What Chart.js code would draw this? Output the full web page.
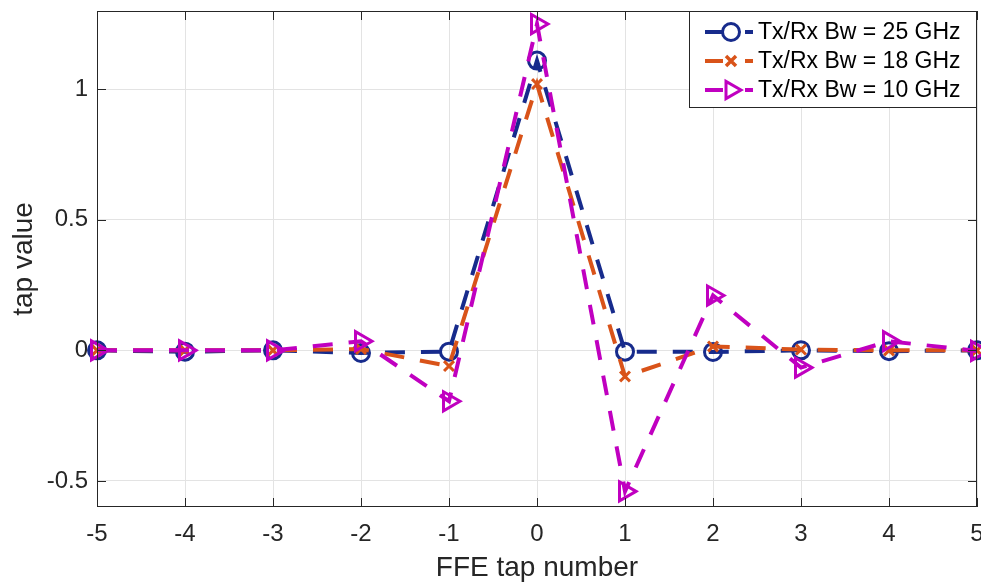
<!DOCTYPE html>
<html>
<head>
<meta charset="utf-8">
<script src="https://cdn.jsdelivr.net/npm/chart.js@4/dist/chart.umd.min.js"></script>
<style>
  html, body { margin: 0; padding: 0; background: #fff; overflow: hidden; }
  #wrap { width: 981px; height: 585px; position: relative; }
  canvas { display: block; }
</style>
</head>
<body>
<div id="wrap"><canvas id="ffeChart"></canvas></div>
<script>
// FFE tap values for three Tx/Rx bandwidths
const tapNumbers = [-5, -4, -3, -2, -1, 0, 1, 2, 3, 4, 5];
const bw25 = [0, -0.005, 0, -0.01, -0.005, 1.11, -0.005, -0.006, 0, -0.003, 0];
const bw18 = [0, 0, 0, 0.005, -0.06, 1.02, -0.10, 0.015, 0.003, 0, 0];
const bw10 = [0, 0, 0, 0.035, -0.195, 1.25, -0.54, 0.21, -0.066, 0.035, -0.002];

const xTicks = [-5, -4, -3, -2, -1, 0, 1, 2, 3, 4, 5];
const yTicks = [-0.5, 0, 0.5, 1];
const seriesLabels = ["Tx/Rx Bw = 25 GHz", "Tx/Rx Bw = 18 GHz", "Tx/Rx Bw = 10 GHz"];
const seriesColors = ["#172b8c", "#d95319", "#c000c0"];

const FONT = "'Liberation Sans', Arial, Helvetica, sans-serif";
const AXIS = "#262626";
const noPadding = () => ({ left: 0, top: 0, right: 0, bottom: 0 });

function toPoints(values) {
  return tapNumbers.map((x, i) => ({ x, y: values[i] }));
}

function series(values, idx, style, radius, rotation) {
  return {
    label: seriesLabels[idx],
    data: toPoints(values),
    showLine: true,
    borderColor: seriesColors[idx],
    backgroundColor: "rgba(0,0,0,0)",
    borderWidth: 4,
    borderDash: [20, 16],
    pointStyle: style,
    pointRadius: radius,
    pointHoverRadius: radius,
    pointRotation: rotation,
    pointBorderWidth: 3,
    pointBorderColor: seriesColors[idx],
    pointBackgroundColor: "rgba(0,0,0,0)",
    clip: false,
    order: 3 - idx
  };
}

function drawMarker(ctx, style, x, y, color) {
  ctx.save();
  ctx.strokeStyle = color;
  ctx.lineWidth = 3;
  ctx.setLineDash([]);
  ctx.beginPath();
  if (style === "circle") {
    ctx.arc(x, y, 8.5, 0, Math.PI * 2);
  } else if (style === "crossRot") {
    const d = 5;
    ctx.moveTo(x - d, y - d); ctx.lineTo(x + d, y + d);
    ctx.moveTo(x + d, y - d); ctx.lineTo(x - d, y + d);
    ctx.lineWidth = 3.5;
  } else {
    const r = 10;
    ctx.moveTo(x + r, y);
    ctx.lineTo(x - r / 2, y - r * 0.866);
    ctx.lineTo(x - r / 2, y + r * 0.866);
    ctx.closePath();
  }
  ctx.stroke();
  ctx.restore();
}

// frame, inward ticks and the boxed legend, drawn like the original figure
const framePlugin = {
  id: "frame",
  afterDraw(chart) {
    const { ctx, chartArea: a, scales } = chart;
    ctx.save();
    ctx.strokeStyle = AXIS;
    ctx.lineWidth = 1;
    ctx.strokeRect(a.left + 0.5, a.top + 0.5, a.right - a.left - 1, a.bottom - a.top - 1);
    ctx.beginPath();
    xTicks.forEach(v => {
      const px = Math.round(scales.x.getPixelForValue(v)) + 0.5;
      ctx.moveTo(px, a.bottom); ctx.lineTo(px, a.bottom - 9);
      ctx.moveTo(px, a.top); ctx.lineTo(px, a.top + 9);
    });
    yTicks.forEach(v => {
      const py = Math.round(scales.y.getPixelForValue(v)) + 0.5;
      ctx.moveTo(a.left, py); ctx.lineTo(a.left + 9, py);
      ctx.moveTo(a.right, py); ctx.lineTo(a.right - 9, py);
    });
    ctx.stroke();

    // legend
    const bx = 689, by = a.top, bw = a.right - bx, bh = 97;
    ctx.fillStyle = "#fff";
    ctx.fillRect(bx, by, bw, bh);
    ctx.strokeRect(bx + 0.5, by + 0.5, bw - 1, bh - 1);
    const styles = ["circle", "crossRot", "triangle"];
    ctx.font = "23px " + FONT;
    ctx.textBaseline = "middle";
    seriesLabels.forEach((label, i) => {
      const y = by + 21 + i * 29;
      ctx.save();
      ctx.strokeStyle = seriesColors[i];
      ctx.lineWidth = 4;
      ctx.beginPath();
      ctx.moveTo(705, y); ctx.lineTo(723, y);
      ctx.moveTo(745, y); ctx.lineTo(753, y);
      ctx.stroke();
      ctx.restore();
      drawMarker(ctx, styles[i], 731, y, seriesColors[i]);
      ctx.fillStyle = "#000";
      ctx.fillText(label, 758, y + 1);
    });
    ctx.restore();
  }
};

new Chart(document.getElementById("ffeChart"), {
  type: "scatter",
  data: {
    datasets: [
      series(bw25, 0, "circle", 8.5, 0),
      series(bw18, 1, "crossRot", 7, 0),
      series(bw10, 2, "triangle", 11, 90)
    ]
  },
  options: {
    responsive: true,
    maintainAspectRatio: false,
    animation: false,
    layout: { autoPadding: false, padding: { left: 0, right: 4, top: 11, bottom: 0 } },
    plugins: { legend: { display: false }, tooltip: { enabled: false } },
    scales: {
      x: {
        type: "linear",
        min: -5,
        max: 5,
        afterBuildTicks: s => { s.ticks = xTicks.map(v => ({ value: v })); },
        afterFit: s => { s.height = 78; s.paddingLeft = 0; s.paddingRight = 0; s.getPadding = noPadding; },
        grid: { color: "#e3e3e3", drawTicks: false },
        border: { display: false },
        ticks: { color: "#262626", padding: 13, font: { family: FONT, size: 24 } },
        title: { display: true, text: "FFE tap number", color: "#262626", padding: { top: 0, bottom: 0 }, font: { family: FONT, size: 28 } }
      },
      y: {
        type: "linear",
        min: -0.6,
        max: 1.3,
        afterBuildTicks: s => { s.ticks = yTicks.map(v => ({ value: v })); },
        afterFit: s => { s.width = 97; s.paddingTop = 0; s.paddingBottom = 0; s.getPadding = noPadding; },
        grid: { color: "#e3e3e3", drawTicks: false },
        border: { display: false },
        ticks: { color: "#262626", padding: 9, font: { family: FONT, size: 24 }, callback: v => String(v) },
        title: { display: true, text: "tap value", color: "#262626", padding: { top: 7, bottom: 0 }, font: { family: FONT, size: 28 } }
      }
    }
  },
  plugins: [framePlugin]
});
</script>
</body>
</html>
